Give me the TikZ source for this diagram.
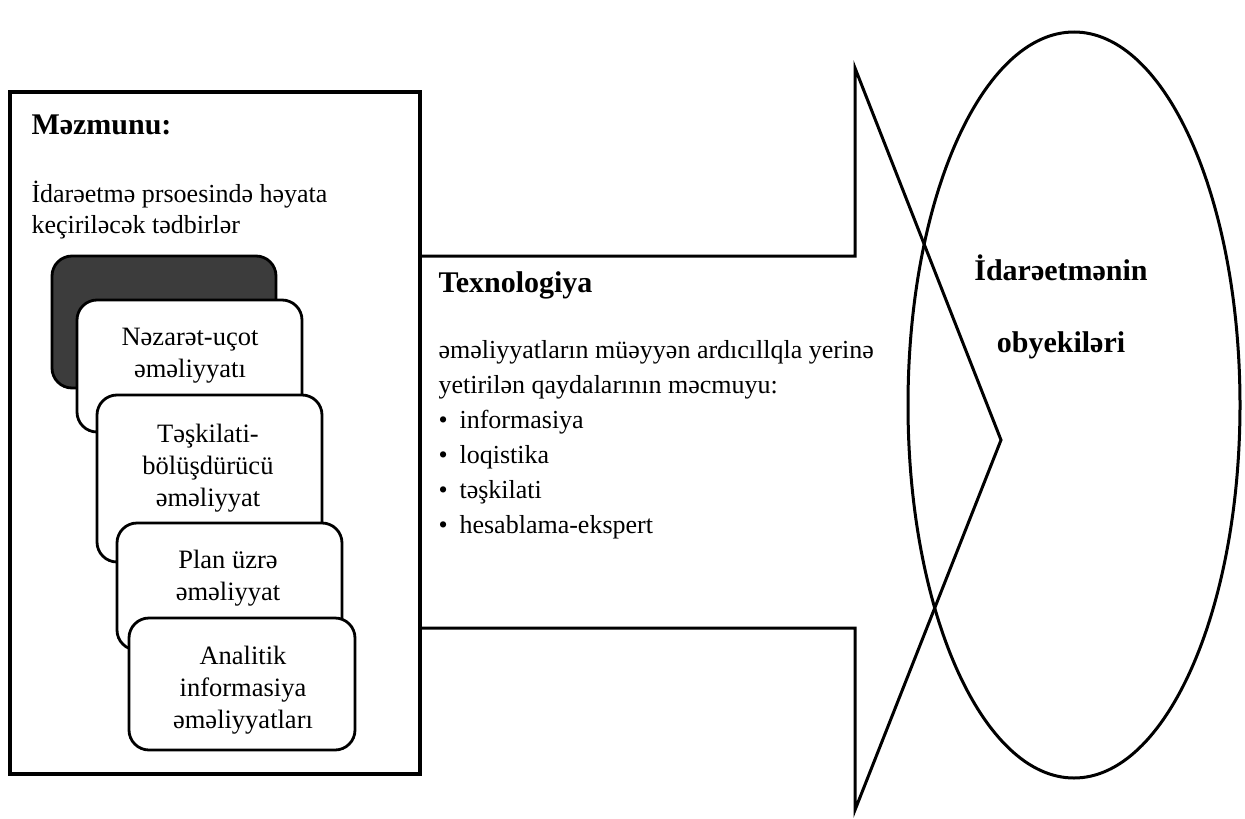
\documentclass[tikz,border=0pt]{standalone}
\usepackage{fontspec}
\setmainfont{Liberation Serif}
\usetikzlibrary{shapes.geometric}
\definecolor{darkcard}{HTML}{3C3C3C}
\begin{document}
\begin{tikzpicture}[x=1pt,y=-1pt,line width=3pt,
  card/.style={draw,fill=white,rounded corners=20pt,line width=2.8pt,inner sep=0pt},
  cardtext/.style={align=center,inner sep=0pt,font=\fontsize{26.5}{32}\selectfont},
  heading/.style={inner sep=0pt,font=\fontsize{30}{36}\selectfont\bfseries},
  body/.style={inner sep=0pt,align=left,font=\fontsize{26}{31}\selectfont}]
\useasboundingbox (0,0) rectangle (1245,819);
% outer box
\node[draw,line width=3.2pt,minimum width=410pt,minimum height=682pt,inner sep=0pt] (outer) at (215,433) {};
% arrow
\coordinate (a1) at (420,256);
\coordinate (a2) at (855,256);
\coordinate (a3) at (855,68);
\coordinate (a4) at (1001,440);
\coordinate (a5) at (855,810);
\coordinate (a6) at (855,628);
\coordinate (a7) at (420,628);
\draw[line join=miter] (a1) -- (a2) -- (a3) -- (a4) -- (a5) -- (a6) -- (a7);
% ellipse
\node[draw,ellipse,minimum width=332pt,minimum height=746pt,inner sep=0pt] (obj) at (1074,405) {};
% stacked cards
\node[card,fill=darkcard,minimum width=224pt,minimum height=132pt] (c0) at (164,322) {};
\node[card,minimum width=225pt,minimum height=132pt] (c1) at (189.5,366) {};
\node[card,minimum width=225pt,minimum height=167pt] (c2) at (209.5,478.5) {};
\node[card,minimum width=225pt,minimum height=127pt] (c3) at (229.5,586.5) {};
\node[card,minimum width=226pt,minimum height=132pt] (c4) at (242,684) {};
\node[cardtext] (t1) at (190,356) {Nəzarət-uçot\\əməliyyatı};
\node[cardtext] (t2) at (208,468) {Təşkilati-\\bölüşdürücü\\əməliyyat};
\node[cardtext] (t3) at (228,578) {Plan üzrə\\əməliyyat};
\node[cardtext] (t4) at (243,690) {Analitik\\informasiya\\əməliyyatları};
% left texts
\node[heading,anchor=base west] (h1) at (30,134) {Məzmunu:};
\node[body,anchor=base west] (d1) at (30,233) {İdarəetmə prsoesində həyata\\keçiriləcək tədbirlər};
% technology
\node[heading,anchor=base west] (h2) at (437,292) {Texnologiya};
\node[body,anchor=base west,font=\fontsize{26}{35}\selectfont] (d2) at (437,533) {əməliyyatların müəyyən ardıcıllqla yerinə\\yetirilən qaydalarının məcmuyu:\\\textbullet\hspace{12pt}informasiya\\\textbullet\hspace{12pt}loqistika\\\textbullet\hspace{12pt}təşkilati\\\textbullet\hspace{12pt}hesablama-ekspert};
% objects
\node[heading,anchor=base,align=center,font=\fontsize{30}{72}\selectfont\bfseries] (h3) at (1061,352) {İdarəetmənin\\obyekiləri};
\end{tikzpicture}
\end{document}
